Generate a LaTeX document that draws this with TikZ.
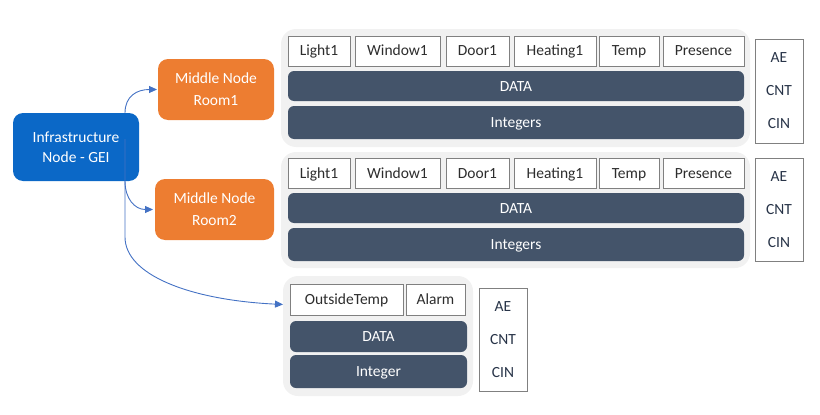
\documentclass[tikz,border=0pt]{standalone}
\usepackage{fontspec}
\setmainfont{Carlito}
\usetikzlibrary{arrows.meta}
\definecolor{infrac}{RGB}{11,104,199}
\definecolor{midc}{RGB}{237,125,49}
\definecolor{barc}{RGB}{68,84,106}
\definecolor{panelbg}{RGB}{241,241,241}
\definecolor{boxline}{RGB}{128,128,128}
\definecolor{arrowc}{RGB}{68,114,196}
\definecolor{lbltext}{RGB}{45,45,45}
\definecolor{aetext}{RGB}{40,52,72}
% \mkbox{name}{style}{x1}{y1}{x2}{y2}{text}
\newcommand\mkbox[7]{\node[#2, minimum width={#5-#3}, minimum height={#6-#4}] (#1) at ({(#3+#5)/2},{(#4+#6)/2}) {#7};}
\begin{document}
\begin{tikzpicture}[x=1pt,y=-1pt,
 every node/.style={font=\fontsize{15.5}{21}\selectfont, inner sep=0pt, outer sep=0pt},
 infrabox/.style={fill=infrac, rounded corners=10pt, text=white, align=center, font=\fontsize{15.5}{20.5}\selectfont},
 midbox/.style={fill=midc, rounded corners=10pt, text=white, align=center, font=\fontsize{15.5}{21.7}\selectfont},
 panel/.style={fill=panelbg, rounded corners=15pt},
 lbl/.style={draw=boxline, line width=0.9pt, fill=white, text=lbltext, text height=10pt, text depth=0pt},
 databar/.style={fill=barc, rounded corners=6pt, text=white, text height=10pt, text depth=0pt},
 aebox/.style={draw=boxline, line width=0.9pt, fill=white, text=aetext, align=center, font=\fontsize{15.5}{33}\selectfont},
 conn/.style={draw=arrowc, line width=0.9pt, -{Triangle[length=8pt,width=7pt]}}
]
\useasboundingbox (0,0) rectangle (820,415);

% left nodes
\mkbox{infra}{infrabox}{13}{113}{139}{181}{Infrastructure\\Node - GEI}
\mkbox{room1}{midbox}{158}{59}{274}{120}{Middle Node\\Room1}
\mkbox{room2}{midbox}{155}{179}{274}{240}{Middle Node\\Room2}

% panels
\mkbox{p1}{panel}{281}{29}{750}{147}{}
\mkbox{p2}{panel}{281}{152}{750}{268}{}
\mkbox{p3}{panel}{283}{276}{473}{396}{}

% panel 1
\mkbox{light1a}{lbl}{288}{36}{350}{66}{Light1}
\mkbox{window1a}{lbl}{355}{36}{440}{66}{Window1}
\mkbox{door1a}{lbl}{446}{36}{509}{66}{Door1}
\mkbox{heating1a}{lbl}{514}{36}{596}{66}{Heating1}
\mkbox{tempa}{lbl}{599}{36}{659}{66}{Temp}
\mkbox{presencea}{lbl}{663}{36}{744}{66}{Presence}
\mkbox{dataa}{databar}{288}{71}{744}{101}{DATA}
\mkbox{intsa}{databar}{288}{106}{744}{139}{Integers}
\mkbox{aea}{aebox}{755}{39}{803}{143}{AE\\CNT\\CIN}

% panel 2
\mkbox{light1b}{lbl}{288}{158}{350}{188}{Light1}
\mkbox{window1b}{lbl}{355}{158}{440}{188}{Window1}
\mkbox{door1b}{lbl}{446}{158}{509}{188}{Door1}
\mkbox{heating1b}{lbl}{514}{158}{596}{188}{Heating1}
\mkbox{tempb}{lbl}{599}{158}{659}{188}{Temp}
\mkbox{presenceb}{lbl}{663}{158}{744}{188}{Presence}
\mkbox{datab}{databar}{288}{193}{744}{223}{DATA}
\mkbox{intsb}{databar}{288}{228}{744}{261}{Integers}
\mkbox{aeb}{aebox}{755}{158}{803}{261}{AE\\CNT\\CIN}

% panel 3
\mkbox{ot}{lbl}{290}{284}{403}{315}{OutsideTemp}
\mkbox{alarm}{lbl}{406}{284}{465}{315}{Alarm}
\mkbox{datac}{databar}{290}{321}{467}{352}{DATA}
\mkbox{intc}{databar}{290}{355}{467}{388}{Integer}
\mkbox{aec}{aebox}{479}{288}{527}{391}{AE\\CNT\\CIN}

% connectors
\coordinate (bend3) at (125,237);
\draw[conn] ([xshift=-14pt]infra.north east) .. controls (125,96) and (137,89.5) .. ([xshift=-1pt]room1.west);
\draw[conn] ([xshift=-14pt]infra.south east) .. controls (125,199) and (135,209.5) .. ([xshift=-2pt]room2.west);
\draw[conn] ([xshift=-14pt,yshift=8pt]infra.east) -- (bend3) .. controls (125,275) and (190,300) .. ([xshift=-7pt,yshift=-5pt]ot.west);
\end{tikzpicture}
\end{document}
